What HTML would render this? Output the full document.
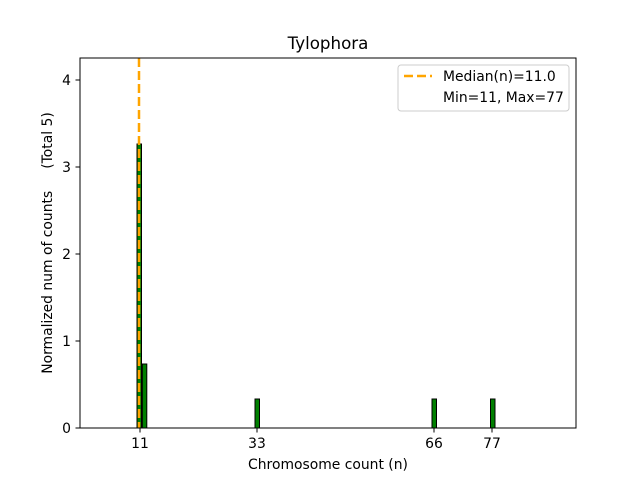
<!DOCTYPE html>
<html><head><style>
body{margin:0;background:#fff;}
svg text{font-family:"DejaVu Sans","Liberation Sans",sans-serif;font-size:13.9px;fill:#000;white-space:pre}
</style></head><body>
<svg width="640" height="480" xmlns="http://www.w3.org/2000/svg">
<rect width="640" height="480" fill="#fff"/>
<g fill="#008000" stroke="#000" stroke-width="1">
<rect x="137" y="144" width="4.5" height="284"/>
<rect x="142.3" y="364" width="4.5" height="64"/>
<rect x="255" y="399" width="4.5" height="29"/>
<rect x="432" y="399" width="4.5" height="29"/>
<rect x="490.5" y="399" width="4.5" height="29"/>
</g>
<line x1="139" y1="58" x2="139" y2="428" stroke="#ffa500" stroke-width="2.5" stroke-dasharray="9,4"/>
<rect x="80" y="58" width="496" height="370" fill="none" stroke="#000" stroke-width="1"/>
<g stroke="#000" stroke-width="1">
<line x1="80" y1="428" x2="75.5" y2="428"/><line x1="80" y1="341" x2="75.5" y2="341"/>
<line x1="80" y1="254" x2="75.5" y2="254"/><line x1="80" y1="167" x2="75.5" y2="167"/>
<line x1="80" y1="80" x2="75.5" y2="80"/>
<line x1="140" y1="428" x2="140" y2="432.5"/><line x1="257" y1="428" x2="257" y2="432.5"/>
<line x1="434" y1="428" x2="434" y2="432.5"/><line x1="492" y1="428" x2="492" y2="432.5"/>
</g>
<g text-anchor="end">
<text x="71" y="433">0</text><text x="71" y="346">1</text><text x="71" y="259">2</text>
<text x="71" y="172">3</text><text x="71" y="85">4</text>
</g>
<g text-anchor="middle">
<text x="140" y="448">11</text><text x="257" y="448">33</text>
<text x="434" y="448">66</text><text x="492" y="448">77</text>
<text x="328" y="469">Chromosome count (n)</text>
<text x="328" y="49" style="font-size:16.7px">Tylophora</text>
</g>
<text transform="translate(52,243) rotate(-90)" text-anchor="middle">Normalized num of counts     (Total 5)</text>
<rect x="398" y="65" width="171" height="46" rx="3" fill="#fff" stroke="#ccc" stroke-width="1"/>
<line x1="404" y1="76" x2="432" y2="76" stroke="#ffa500" stroke-width="2.5" stroke-dasharray="9,4"/>
<text x="443" y="81">Median(n)=11.0</text>
<text x="443" y="102">Min=11, Max=77</text>
</svg>
</body></html>
